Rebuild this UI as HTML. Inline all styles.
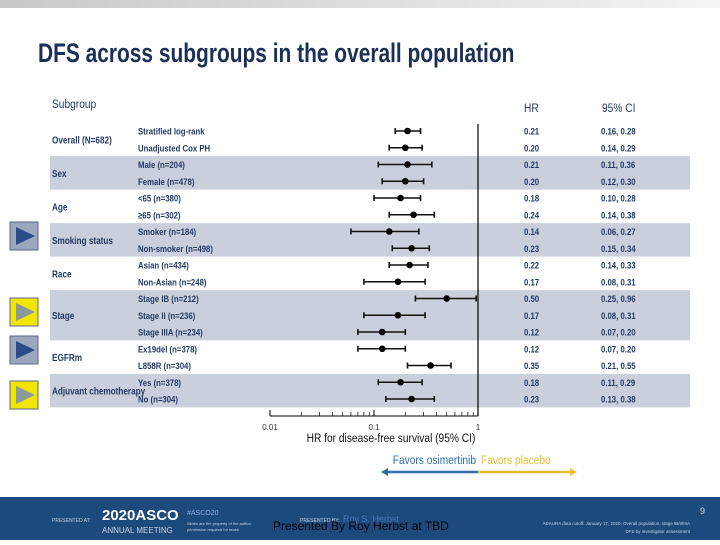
<!DOCTYPE html>
<html><head><meta charset="utf-8"><style>
body{margin:0;width:720px;height:540px;overflow:hidden;background:#fff;font-family:"Liberation Sans",sans-serif;}
svg text{font-family:"Liberation Sans",sans-serif;}
</style></head><body>
<svg id="s" width="720" height="540" xmlns="http://www.w3.org/2000/svg">
<defs><linearGradient id="tg" x1="0" x2="1"><stop offset="0" stop-color="#c8c8c8"/><stop offset="1" stop-color="#f4f4f4"/></linearGradient></defs>
<rect x="0" y="0" width="720" height="8" fill="url(#tg)"/>
<text x="38" y="62" font-size="27" font-weight="bold" fill="#1b2f57" transform="translate(38,0) scale(0.775,1) translate(-38,0)">DFS across subgroups in the overall population</text>
<g id="bands"></g>
<g id="labels" font-size="10" fill="#243a66"></g>
<text transform="translate(52,108) scale(0.85,1)" font-size="12" fill="#243a66">Subgroup</text>
<text transform="translate(524,112) scale(0.85,1)" font-size="12" fill="#243a66">HR</text>
<text transform="translate(602,112) scale(0.85,1)" font-size="12" fill="#243a66">95% CI</text>
<g id="plot"></g>
<g id="axis"></g>
<text transform="translate(391,442) scale(0.85,1)" font-size="12" fill="#111" text-anchor="middle">HR for disease-free survival (95% CI)</text>
<text transform="translate(476,464) scale(0.85,1)" font-size="12" fill="#2f6db0" text-anchor="end">Favors osimertinib</text>
<text transform="translate(481,464) scale(0.85,1)" font-size="12" fill="#e6c12a">Favors placebo</text>
<line x1="386" y1="472" x2="478" y2="472" stroke="#2f6db0" stroke-width="2.5"/>
<polygon points="381,472 388,468 388,476" fill="#2f6db0"/>
<line x1="478" y1="472" x2="572" y2="472" stroke="#e6c12a" stroke-width="2.5"/>
<polygon points="577,472 570,468 570,476" fill="#e6c12a"/>
<g>
<rect x="10" y="222" width="28" height="28" fill="#9aa7bd" stroke="#5a6a8a"/><polygon points="16,227 35,236 16,245" fill="#2a4d8a"/>
<rect x="10" y="298" width="28" height="28" fill="#f2e500" stroke="#5a6a8a"/><polygon points="16,303 35,312 16,321" fill="#8a9a9a"/>
<rect x="10" y="336" width="28" height="28" fill="#9aa7bd" stroke="#5a6a8a"/><polygon points="16,341 35,350 16,359" fill="#2a4d8a"/>
<rect x="10" y="381" width="28" height="28" fill="#f2e500" stroke="#5a6a8a"/><polygon points="16,386 35,395 16,404" fill="#8a9a9a"/>
</g>
<rect x="0" y="497" width="720" height="43" fill="#1c4a7c"/>
<text x="52" y="522" font-size="5" fill="#c8d4e4">PRESENTED AT:</text>
<text x="102" y="520" font-size="15" fill="#fff" font-weight="bold">2020ASCO</text>
<text x="102" y="533" font-size="8" fill="#c8d4e4">ANNUAL MEETING</text>
<text x="187" y="515" font-size="7" fill="#8fb0e0">#ASCO20</text>
<text x="187" y="525" font-size="4" fill="#c8d4e4">Slides are the property of the author,</text>
<text x="187" y="531" font-size="4" fill="#c8d4e4">permission required for reuse.</text>
<text x="300" y="522" font-size="5" fill="#c8d4e4">PRESENTED BY:</text>
<text x="343" y="522" font-size="9" fill="#4a78b8">Roy S. Herbst</text>
<text x="273" y="530" font-size="12" fill="#000">Presented By Roy Herbst at TBD</text>
<text x="700" y="514" font-size="9" fill="#c8d4e4">9</text>
<text x="690" y="525" font-size="4.5" fill="#c8d4e4" text-anchor="end">ADAURA data cutoff: January 17, 2020. Overall population, stage IB/II/IIIA</text>
<text x="690" y="533" font-size="4.5" fill="#c8d4e4" text-anchor="end">DFS by investigator assessment</text>
</svg>
<script>
const groups=["Overall (N=682)","Sex","Age","Smoking status","Race","Stage","EGFRm","Adjuvant chemotherapy"];
const groupSizes=[2,2,2,2,2,3,2,2];
const subgroups=["Stratified log-rank","Unadjusted Cox PH","Male (n=204)","Female (n=478)","<65 (n=380)","≥65 (n=302)","Smoker (n=184)","Non-smoker (n=498)","Asian (n=434)","Non-Asian (n=248)","Stage IB (n=212)","Stage II (n=236)","Stage IIIA (n=234)","Ex19del (n=378)","L858R (n=304)","Yes (n=378)","No (n=304)"];
const hr=[0.21,0.20,0.21,0.20,0.18,0.24,0.14,0.23,0.22,0.17,0.50,0.17,0.12,0.12,0.35,0.18,0.23];
const lo=[0.16,0.14,0.11,0.12,0.10,0.14,0.06,0.15,0.14,0.08,0.25,0.08,0.07,0.07,0.21,0.11,0.13];
const hi=[0.28,0.29,0.36,0.30,0.28,0.38,0.27,0.34,0.33,0.31,0.96,0.31,0.20,0.20,0.55,0.29,0.38];
const ticks=[0.01,0.1,1];
const tickLabels=["0.01","0.1","1"];
const NS="http://www.w3.org/2000/svg";
function x(v){return 270+104*Math.log10(v/0.01);}
function y(i){return 131+i*16.75;}
function mk(tag,attrs,parent,txt){const e=document.createElementNS(NS,tag);for(const k in attrs)e.setAttribute(k,attrs[k]);if(txt!==undefined)e.textContent=txt;parent.appendChild(e);return e;}
function tx(px,py,size,parent,txt){return mk('text',{transform:'translate('+px+','+py+') scale(0.82,1)','font-size':size,fill:'#243a66','font-weight':'bold'},parent,txt);}
const bands=document.getElementById('bands'),labels=document.getElementById('labels'),plot=document.getElementById('plot'),axis=document.getElementById('axis');
let start=0;
groups.forEach((g,gi)=>{
  const n=groupSizes[gi];
  const top=y(start)-8.4,h=n*16.75;
  if(gi%2===1){const r=mk('rect',{x:50,y:top,width:640,height:h,fill:'#c9cfdc'},bands);
    
    }
  const t=tx(52,top+h/2+4,10,labels,g);
  
  
  start+=n;
});
subgroups.forEach((s,i)=>{
  const yy=y(i);
  const t=tx(138,yy+3.5,9.5,labels,s);
  
  
  const h=tx(524,yy+3.5,9.5,labels,hr[i].toFixed(2));
  
  
  const c=tx(601,yy+3.5,9.5,labels,lo[i].toFixed(2)+", "+hi[i].toFixed(2));
  
  
  const g=mk('g',{stroke:'#111','stroke-width':1.6},plot);
  
  
  mk('line',{x1:x(lo[i]),x2:x(hi[i]),y1:yy,y2:yy},g);
  mk('line',{x1:x(lo[i]),x2:x(lo[i]),y1:yy-3,y2:yy+3},g);
  mk('line',{x1:x(hi[i]),x2:x(hi[i]),y1:yy-3,y2:yy+3},g);
  const p=mk('circle',{cx:x(hr[i]),cy:yy,r:3.3,fill:'#000'},plot);
  
  
});
const ref=mk('line',{x1:x(1),x2:x(1),y1:124,y2:416,stroke:'#000','stroke-width':1.2},axis);


const al=mk('line',{x1:x(0.01),x2:x(1),y1:416,y2:416,stroke:'#000','stroke-width':1},axis);


for(let d=0;d<2;d++)for(let m=2;m<=9;m++){const v=ticks[d]*m;mk('line',{x1:x(v),x2:x(v),y1:416,y2:412,stroke:'#000','stroke-width':0.7},axis);}
ticks.forEach((v,i)=>{
  mk('line',{x1:x(v),x2:x(v),y1:416,y2:410,stroke:'#000','stroke-width':1},axis);
  const t=mk('text',{x:x(v),y:430,'font-size':8,fill:'#333','text-anchor':'middle'},axis,tickLabels[i]);
  
  
});
</script>
</body></html>
